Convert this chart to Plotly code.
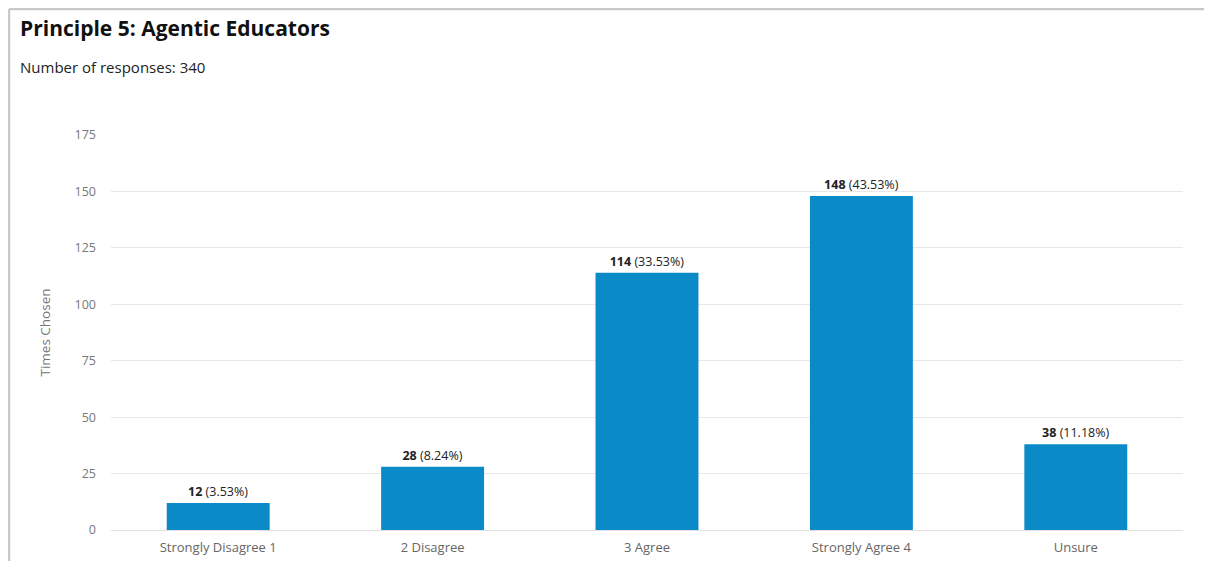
import plotly.graph_objects as go

categories = ["Strongly Disagree 1", "2 Disagree", "3 Agree", "Strongly Agree 4", "Unsure"]
counts = [12, 28, 114, 148, 38]
percent_labels = ["3.53%", "8.24%", "33.53%", "43.53%", "11.18%"]
y_ticks = [0, 25, 50, 75, 100, 125, 150, 175]

FONT = "Open Sans, Noto Sans, sans-serif"

fig = go.Figure(
    go.Bar(
        x=categories,
        y=counts,
        customdata=percent_labels,
        marker=dict(color="#0A8BC7", line=dict(width=0)),
        texttemplate="<b>%{y}</b> (%{customdata})",
        textposition="outside",
        textfont=dict(family=FONT, size=12.5, color="#222222"),
        cliponaxis=False,
        hoverinfo="skip",
    )
)

# figure is drawn at page offset (8, 8) because of the default body margin
PW, PH = 1072, 395
fig.update_layout(
    width=1196,
    height=553,
    margin=dict(l=103, r=21, t=127, b=31, autoexpand=False),
    paper_bgcolor="white",
    plot_bgcolor="white",
    bargap=0.52,
    showlegend=False,
    font=dict(family=FONT),
)

fig.update_xaxes(
    tickfont=dict(family=FONT, size=13, color="#666666"),
    showgrid=False,
    showline=False,
    ticks="",
    ticklabelstandoff=8,
    automargin=False,
)

fig.update_yaxes(
    range=[0, 175],
    tickvals=y_ticks,
    tickfont=dict(family=FONT, size=12.5, color="#777777"),
    showgrid=True,
    gridcolor="#e8e8e8",
    gridwidth=1,
    zeroline=True,
    zerolinecolor="#e0e0e0",
    zerolinewidth=1,
    ticks="",
    ticklabelstandoff=14,
    automargin=False,
    title=dict(text="Times Chosen", font=dict(family=FONT, size=13.5, color="#777777"), standoff=20),
)

fig.add_annotation(
    text="<b>Principle 5: Agentic Educators</b>", xref="paper", yref="paper",
    x=-93 / PW, y=1 + 107 / PH, xanchor="left", yanchor="middle", showarrow=False,
    font=dict(family=FONT, size=21, color="#111111"),
)
fig.add_annotation(
    text="Number of responses: 340", xref="paper", yref="paper",
    x=-93 / PW, y=1 + 68 / PH, xanchor="left", yanchor="middle", showarrow=False,
    font=dict(family=FONT, size=15, color="#222222"),
)

# outer frame (top and left edges)
fig.add_shape(type="line", xref="paper", yref="paper",
              x0=-102 / PW, x1=1 + 21 / PW, y0=1 + 126 / PH, y1=1 + 126 / PH,
              line=dict(color="#c8c8c8", width=2.5))
fig.add_shape(type="line", xref="paper", yref="paper",
              x0=-102 / PW, x1=-102 / PW, y0=-31 / PH, y1=1 + 126 / PH,
              line=dict(color="#c8c8c8", width=2.5))

fig.write_html("out.html")
